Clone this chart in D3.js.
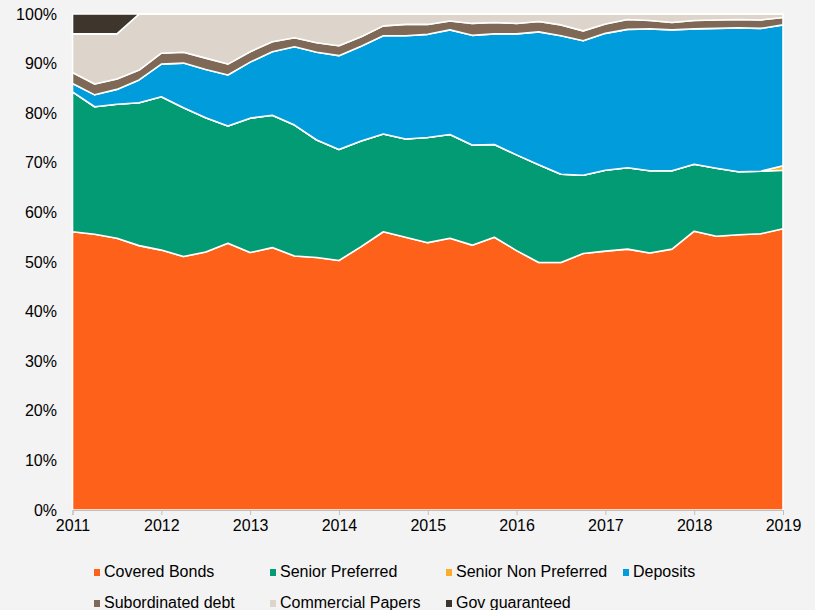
<!DOCTYPE html>
<html>
<head>
<meta charset="utf-8">
<script src="https://cdn.jsdelivr.net/npm/d3@7"></script>
<style>
  html, body { margin: 0; padding: 0; background: #f3f3f3; }
  svg { display: block; font-family: "Liberation Sans", Arial, sans-serif; }
</style>
</head>
<body>
<svg id="chart" width="815" height="610"></svg>
<script>
// Quarterly observations, 2011 Q1 .. 2019 Q1 (33 points)
const startYear = 2011;
const quarters = d3.range(33).map(i => startYear + i / 4);

const seriesNames = ["Covered Bonds", "Senior Preferred", "Senior Non Preferred", "Deposits",
                     "Subordinated debt", "Commercial Papers", "Gov guaranteed"];

const coveredBonds = [56.1,55.6,54.8,53.3,52.4,51.1,52.0,53.8,51.9,52.9,51.2,50.9,50.3,53.1,56.1,55.0,53.9,
                      54.8,53.4,55.0,52.3,49.9,49.9,51.7,52.2,52.6,51.8,52.6,56.2,55.2,55.5,55.7,56.7];
const seniorPreferred = [28.2,25.7,27.0,28.8,30.9,30.0,27.1,23.6,27.1,26.7,26.4,23.7,22.4,21.3,19.7,19.8,21.2,
                         20.9,20.2,18.7,19.3,19.7,17.8,15.8,16.3,16.4,16.6,15.8,13.5,13.7,12.7,12.6,11.8];
const seniorNonPreferred = [0,0,0,0,0,0,0,0,0,0,0,0,0,0,0,0,0,
                            0,0,0,0,0,0,0,0,0,0,0,0,0,0,0,0.9];
const deposits = [1.7,2.4,3.0,4.6,6.6,9.0,9.7,10.3,11.3,12.8,15.8,17.7,18.9,19.1,19.8,20.8,20.8,
                  21.1,22.1,22.3,24.4,26.8,27.9,27.1,27.6,27.9,28.6,28.4,27.3,28.2,29.0,28.8,28.4];
const subordinatedDebt = [2.2,2.2,2.1,2.0,2.2,2.2,2.3,2.2,2.1,2.0,1.8,1.9,2.0,1.9,2.0,2.3,2.0,
                          1.8,2.4,2.3,2.1,2.1,2.2,2.0,1.9,2.0,1.7,1.5,1.7,1.7,1.7,1.7,1.5];
const commercialPapers = [7.8,10.1,9.1,11.3,7.9,7.7,8.9,10.1,7.6,5.6,4.8,5.8,6.4,4.6,2.4,2.1,2.1,
                          1.4,1.9,1.7,1.9,1.5,2.2,3.4,2.0,1.1,1.3,1.7,1.3,1.2,1.1,1.2,0.7];
const govGuaranteed = [4.0,4.0,4.0,0,0,0,0,0,0,0,0,0,0,0,0,0,0,
                       0,0,0,0,0,0,0,0,0,0,0,0,0,0,0,0];

const yTicks = [0,10,20,30,40,50,60,70,80,90,100];
const xTicks = [2011,2012,2013,2014,2015,2016,2017,2018,2019];

const colors = ["#fe6119", "#039b74", "#fbad2b", "#009cdb", "#7f6855", "#ddd4cb", "#3e352c"];

const seriesValues = [coveredBonds, seniorPreferred, seniorNonPreferred, deposits,
                      subordinatedDebt, commercialPapers, govGuaranteed];

const rows = quarters.map((q, i) => {
  const r = { t: q };
  seriesNames.forEach((n, k) => r[n] = seriesValues[k][i]);
  return r;
});

const svg = d3.select("#chart");
const m = { left: 72.5, right: 783, top: 14, bottom: 510 };

const x = d3.scaleLinear().domain([2011, 2019]).range([m.left, m.right]);
const y = d3.scaleLinear().domain([0, 100]).range([m.bottom, m.top]);

const stack = d3.stack().keys(seriesNames);
const layers = stack(rows);

const area = d3.area()
  .x(d => x(d.data.t))
  .y0(d => y(d[0]))
  .y1(d => y(d[1]));

svg.append("g").selectAll("path")
  .data(layers)
  .join("path")
  .attr("d", area)
  .attr("fill", (d, i) => colors[i])
  .attr("stroke", "#ffffff")
  .attr("stroke-width", 1.6)
  .attr("stroke-linejoin", "round");

// Y axis labels
const yAxis = d3.axisLeft(y).tickValues(yTicks).tickFormat(d => d + "%").tickSize(0).tickPadding(15.5);
const gy = svg.append("g").attr("transform", `translate(${m.left},0)`).call(yAxis);
gy.select(".domain").remove();
gy.selectAll("text").attr("font-size", 16).attr("fill", "#000").attr("font-family", "Liberation Sans, Arial, sans-serif");

// X axis
const xAxis = d3.axisBottom(x).tickValues(xTicks).tickFormat(d3.format("d")).tickSize(5).tickPadding(5);
const gx = svg.append("g").attr("transform", `translate(0,${m.bottom})`).call(xAxis);
gx.select(".domain").attr("stroke", "#bfbfbf");
gx.selectAll(".tick line").attr("stroke", "#bfbfbf");
gx.selectAll("text").attr("font-size", 16).attr("fill", "#000").attr("font-family", "Liberation Sans, Arial, sans-serif");

// Legend
const legendPos = [[94, 571], [270, 571], [446, 571], [623, 571], [94, 602], [270, 602], [446, 602]];
const lg = svg.append("g");
seriesNames.forEach((n, i) => {
  const [lx, ly] = legendPos[i];
  lg.append("rect").attr("x", lx).attr("y", ly - 2).attr("width", 6).attr("height", 7).attr("fill", colors[i]);
  lg.append("text").attr("x", lx + 10).attr("y", ly).attr("dy", "0.35em")
    .attr("font-size", 16).attr("fill", "#000").text(n);
});
</script>
</body>
</html>
